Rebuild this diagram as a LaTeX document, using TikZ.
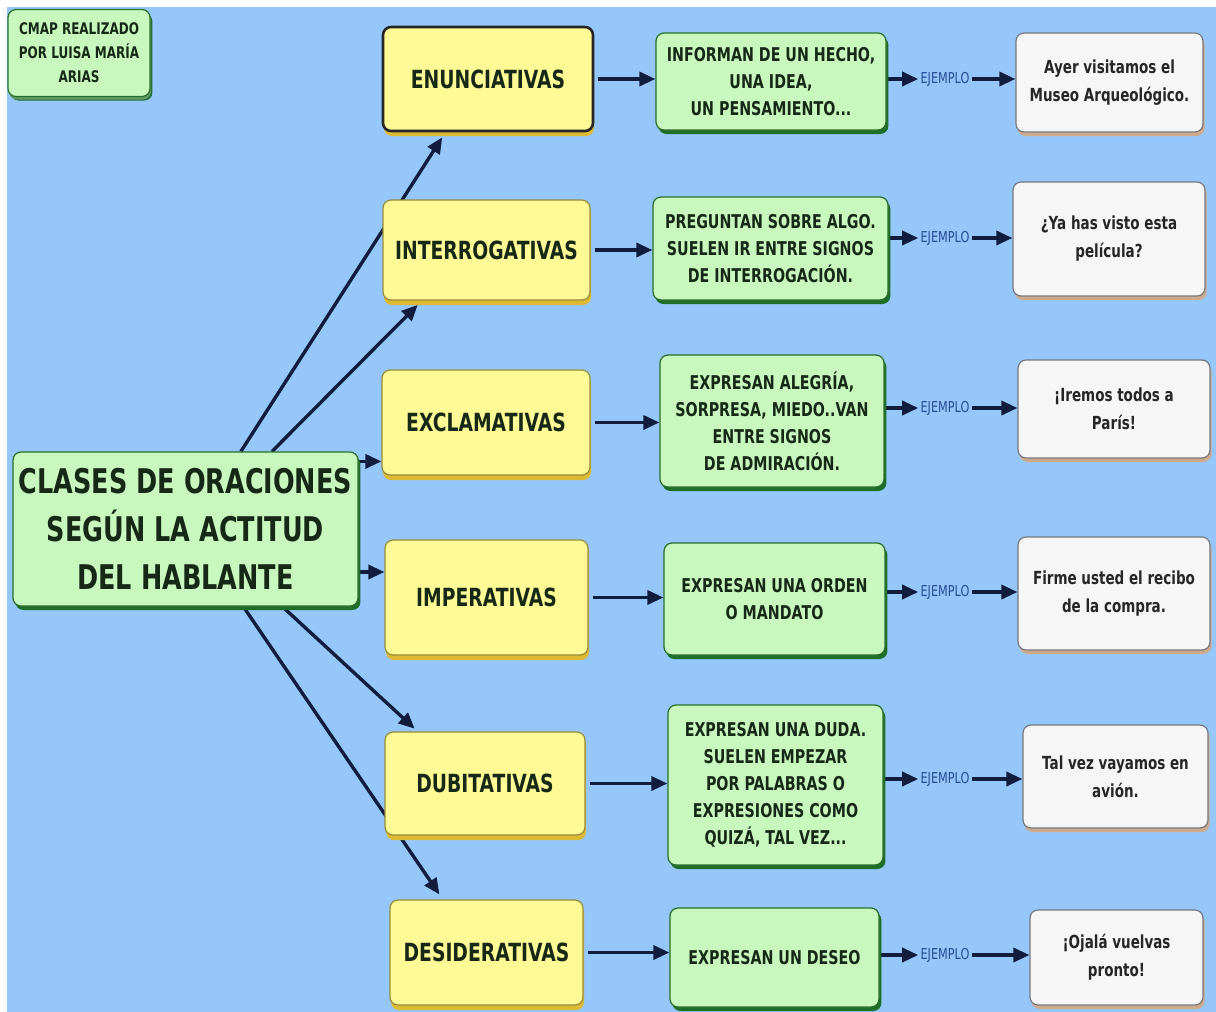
\documentclass[tikz,border=0pt]{standalone}
\usepackage{fontspec}
\setmainfont{DejaVu Sans}[FakeStretch=0.75]
\usetikzlibrary{arrows.meta,shadows,calc}

\definecolor{cielo}{RGB}{149,199,250}
\definecolor{amar}{RGB}{255,250,150}
\definecolor{amarborde}{RGB}{150,140,60}
\definecolor{amarsombra}{RGB}{222,185,50}
\definecolor{verde}{RGB}{200,248,190}
\definecolor{verdeborde}{RGB}{40,110,40}
\definecolor{verdesombra}{RGB}{30,110,40}
\definecolor{blanco}{RGB}{246,246,246}
\definecolor{blancoborde}{RGB}{120,120,125}
\definecolor{blancosombra}{RGB}{205,170,140}
\definecolor{texto}{RGB}{22,40,22}
\definecolor{azul}{RGB}{18,28,60}
\definecolor{azulej}{RGB}{40,75,150}

\pgfdeclarelayer{capafondo}
\pgfsetlayers{capafondo,main}

\begin{document}
\begin{tikzpicture}[x=0.5pt,y=-0.5pt,
  caja/.style={draw, rounded corners=4pt, align=center, inner sep=2pt, line width=0.6pt},
  amarillo/.style={caja, fill=amar, draw=amarborde, text=texto,
    font=\bfseries\fontsize{12.5}{15}\selectfont,
    drop shadow={fill=amarsombra, opacity=1, shadow xshift=0.5pt, shadow yshift=-2.5pt}},
  verdecaja/.style={caja, fill=verde, draw=verdeborde, text=texto,
    font=\bfseries\fontsize{9.5}{13.5}\selectfont,
    drop shadow={fill=verdesombra, opacity=1, shadow xshift=1.2pt, shadow yshift=-2pt}},
  blancocaja/.style={caja, fill=blanco, draw=blancoborde, text=black!85,
    font=\bfseries\fontsize{9}{14}\selectfont,
    drop shadow={fill=blancosombra, opacity=1, shadow xshift=0.8pt, shadow yshift=-2pt}},
  ejemplo/.style={text=azulej, inner sep=1pt, font=\fontsize{7.5}{8}\selectfont},
  flecha/.style={draw=azul, line width=1.7pt, -{Triangle[length=8pt,width=7pt]}}]

  \useasboundingbox (0,0) rectangle (1216,1012);

  % autor
  \node[verdecaja, font=\bfseries\fontsize{8}{12}\selectfont, minimum width=71pt, minimum height=43.5pt,
    drop shadow={fill=verdesombra!70, opacity=1, shadow xshift=0.5pt, shadow yshift=-1.5pt}]
    (autor) at (79,53) {CMAP REALIZADO\\POR LUISA MARÍA\\ARIAS};

  % nodo central
  \node[verdecaja, font=\bfseries\fontsize{17}{24}\selectfont, minimum width=172.5pt, minimum height=77pt]
    (clases) at (185.5,529) {CLASES DE ORACIONES\\SEGÚN LA ACTITUD\\DEL HABLANTE};

  % clases de oraciones
  \node[amarillo, draw=black!85, line width=1.3pt, minimum width=105pt, minimum height=52pt] (enun) at (488,79) {ENUNCIATIVAS};
  \node[amarillo, minimum width=103.5pt, minimum height=50pt] (inter) at (486.5,250) {INTERROGATIVAS};
  \node[amarillo, minimum width=104pt, minimum height=52.5pt] (excl) at (486,422.5) {EXCLAMATIVAS};
  \node[amarillo, minimum width=101.5pt, minimum height=57.5pt] (imper) at (486.5,597.5) {IMPERATIVAS};
  \node[amarillo, minimum width=100pt, minimum height=51.5pt] (dubit) at (485,783.5) {DUBITATIVAS};
  \node[amarillo, minimum width=96.5pt, minimum height=52.5pt] (desid) at (486.5,952.5) {DESIDERATIVAS};

  % definiciones
  \node[verdecaja, minimum width=115pt, minimum height=48.5pt] (informan) at (771,81.5) {INFORMAN DE UN HECHO,\\UNA IDEA,\\UN PENSAMIENTO...};
  \node[verdecaja, minimum width=117.5pt, minimum height=51.5pt] (preguntan) at (770.5,248.5) {PREGUNTAN SOBRE ALGO.\\SUELEN IR ENTRE SIGNOS\\DE INTERROGACIÓN.};
  \node[verdecaja, minimum width=112pt, minimum height=66pt] (alegria) at (772,421) {EXPRESAN ALEGRÍA,\\SORPRESA, MIEDO..VAN\\ENTRE SIGNOS\\DE ADMIRACIÓN.};
  \node[verdecaja, minimum width=110.5pt, minimum height=56pt] (orden) at (774.5,599) {EXPRESAN UNA ORDEN\\O MANDATO};
  \node[verdecaja, minimum width=107.5pt, minimum height=80pt] (duda) at (775.5,785) {EXPRESAN UNA DUDA.\\SUELEN EMPEZAR\\POR PALABRAS O\\EXPRESIONES COMO\\QUIZÁ, TAL VEZ...};
  \node[verdecaja, minimum width=104.5pt, minimum height=49.5pt] (deseo) at (774.5,957.5) {EXPRESAN UN DESEO};

  % ejemplos
  \node[blancocaja, minimum width=93.5pt, minimum height=49.5pt] (ayer) at (1109.5,82.5) {Ayer visitamos el\\Museo Arqueológico.};
  \node[blancocaja, minimum width=96pt, minimum height=57pt] (pelicula) at (1109,239) {¿Ya has visto esta\\película?};
  \node[blancocaja, minimum width=96pt, minimum height=49pt] (paris) at (1114,409) {¡Iremos todos a\\París!};
  \node[blancocaja, minimum width=96pt, minimum height=56.5pt] (recibo) at (1114,593.5) {Firme usted el recibo\\de la compra.};
  \node[blancocaja, minimum width=92.5pt, minimum height=51.5pt] (avion) at (1115.5,776.5) {Tal vez vayamos en\\avión.};
  \node[blancocaja, minimum width=86.5pt, minimum height=47.5pt] (pronto) at (1116.5,957.5) {¡Ojalá vuelvas\\pronto!};

  % etiquetas de enlace
  \node[ejemplo] (ej1) at (945,79) {EJEMPLO};
  \node[ejemplo] (ej2) at (945,238) {EJEMPLO};
  \node[ejemplo] (ej3) at (945,408) {EJEMPLO};
  \node[ejemplo] (ej4) at (945,592) {EJEMPLO};
  \node[ejemplo] (ej5) at (945,779) {EJEMPLO};
  \node[ejemplo] (ej6) at (945,955) {EJEMPLO};

  \begin{pgfonlayer}{capafondo}
    \fill[cielo] (7,7) rectangle (1216,1012);

    % desde el nodo central
    \draw[flecha, shorten >=3pt] ($(clases.north west)!0.66!(clases.north east)$) -- ($(enun.south west)!0.3!(enun.south east)$);
    \draw[flecha, shorten >=3pt] ($(clases.north west)!0.75!(clases.north east)$) -- ($(inter.south west)!0.19!(inter.south east)$);
    \coordinate (c3) at ($(clases.north east)+(0,10)$);
    \coordinate (c4) at ($(clases.east)+(0,43)$);
    \draw[flecha] (c3) -- (c3 -| excl.west);
    \draw[flecha] (c4) -- (c4 -| imper.west);
    \draw[flecha, shorten >=2pt] ($(clases.south west)!0.78!(clases.south east)$) -- ($(dubit.north west)!0.165!(dubit.north east)$);
    \draw[flecha, shorten >=3pt] ($(clases.south west)!0.667!(clases.south east)$) -- ($(desid.north west)!0.275!(desid.north east)$);

    % clase -> definicion
    \draw[flecha, shorten <=2pt] (enun.east) -- (enun.east -| informan.west);
    \draw[flecha, shorten <=2pt] (inter.east) -- (inter.east -| preguntan.west);
    \draw[flecha, shorten <=2pt] (excl.east) -- (excl.east -| alegria.west);
    \draw[flecha, shorten <=2pt] (imper.east) -- (imper.east -| orden.west);
    \draw[flecha, shorten <=2pt] (dubit.east) -- (dubit.east -| duda.west);
    \draw[flecha, shorten <=2pt] (desid.east) -- (desid.east -| deseo.west);

    % definicion -> ejemplo
    \draw[flecha] (ej1.west -| informan.east) -- (ej1.west);
    \draw[flecha] (ej2.west -| preguntan.east) -- (ej2.west);
    \draw[flecha] (ej3.west -| alegria.east) -- (ej3.west);
    \draw[flecha] (ej4.west -| orden.east) -- (ej4.west);
    \draw[flecha] (ej5.west -| duda.east) -- (ej5.west);
    \draw[flecha] (ej6.west -| deseo.east) -- (ej6.west);
    \draw[flecha] (ej1.east) -- (ej1.east -| ayer.west);
    \draw[flecha] (ej2.east) -- (ej2.east -| pelicula.west);
    \draw[flecha] (ej3.east) -- (ej3.east -| paris.west);
    \draw[flecha] (ej4.east) -- (ej4.east -| recibo.west);
    \draw[flecha] (ej5.east) -- (ej5.east -| avion.west);
    \draw[flecha] (ej6.east) -- (ej6.east -| pronto.west);
  \end{pgfonlayer}
\end{tikzpicture}
\end{document}
